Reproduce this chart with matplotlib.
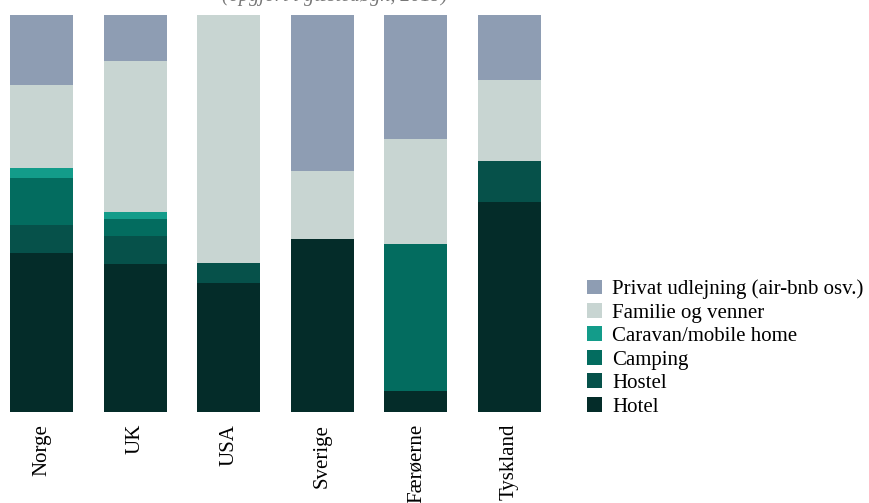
import numpy as np
import matplotlib
matplotlib.use("Agg")
import matplotlib.pyplot as plt

plt.rcParams['font.family'] = ['Liberation Serif', 'DejaVu Serif']

# andel af gæstedøgn pr. overnatningsform (procent)
lande = ["Norge", "UK", "USA", "Sverige", "Færøerne", "Tyskland"]
hotel = [40.1, 37.3, 32.5, 43.6, 5.3, 52.9]
hostel = [7.1, 7.1, 5.0, 0.0, 0.0, 10.3]
camping = [11.8, 4.3, 0.0, 0.0, 37.0, 0.0]
caravan = [2.5, 1.8, 0.0, 0.0, 0.0, 0.0]
familie = [20.9, 37.8, 62.5, 17.1, 26.4, 20.4]
privat = [17.6, 11.8, 0.0, 39.3, 31.2, 16.4]

serier = [
    ("Hotel", hotel, "#042c29"),
    ("Hostel", hostel, "#06514a"),
    ("Camping", camping, "#036c5f"),
    ("Caravan/mobile home", caravan, "#139c8a"),
    ("Familie og venner", familie, "#c8d5d2"),
    ("Privat udlejning (air-bnb osv.)", privat, "#8e9db3"),
]

fig = plt.figure(figsize=(8.69, 5.03), dpi=100)
ax = fig.add_axes([0, 91 / 503, 560 / 869, 397 / 503])

x = np.arange(len(lande))
bund = np.zeros(len(lande))
handles = []
for navn, vals, farve in serier:
    b = ax.bar(x, vals, width=0.675, bottom=bund, color=farve, label=navn)
    handles.append(b)
    bund += np.array(vals)

ax.set_xlim(-41.5 / 93.6, (560 - 41.5) / 93.6)
ax.set_ylim(0, 100)
ax.set_xticks(x)
ax.set_xticklabels(lande, rotation=90, fontsize=15)
ax.tick_params(axis='x', length=0, pad=8.4)
ax.set_yticks([])
for s in ax.spines.values():
    s.set_visible(False)

# undertitel, skåret af i toppen
fig.text(0.385, 1 - 1 / 503, "(opgjort i gæstedøgn, 2019)", ha='center',
         va='baseline', fontsize=14.5, style='italic', color='#777777')

fig.legend(handles[::-1], [s[0] for s in serier][::-1], loc='center left',
           bbox_to_anchor=(587 / 869, 1 - 348 / 503), frameon=False,
           fontsize=15, handlelength=0.72, handleheight=0.72,
           handletextpad=0.48, labelspacing=0.18, borderaxespad=0,
           borderpad=0)

fig.savefig("out.png", dpi=100)
